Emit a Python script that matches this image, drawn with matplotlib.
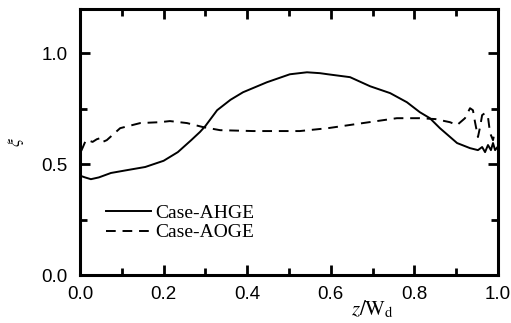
import matplotlib.pyplot as plt
from matplotlib.ticker import MultipleLocator

plt.rcParams['mathtext.fontset'] = 'stix'

# --- dati ---
x_ahge = [0.003, 0.012, 0.026, 0.045, 0.074, 0.110, 0.156, 0.200, 0.234, 0.266,
          0.287, 0.300, 0.328, 0.360, 0.390, 0.447, 0.502, 0.543, 0.574, 0.593,
          0.646, 0.694, 0.742, 0.782, 0.813, 0.837, 0.861, 0.880, 0.902, 0.933,
          0.952, 0.962, 0.969, 0.976, 0.983, 0.988, 0.993, 0.998]
y_ahge = [0.446, 0.440, 0.432, 0.440, 0.460, 0.472, 0.487, 0.515, 0.554, 0.608,
          0.645, 0.672, 0.743, 0.790, 0.824, 0.869, 0.905, 0.914, 0.910, 0.905,
          0.892, 0.851, 0.820, 0.779, 0.734, 0.707, 0.662, 0.631, 0.595, 0.572,
          0.563, 0.577, 0.554, 0.586, 0.563, 0.595, 0.563, 0.575]

x_aoge = [0.003, 0.007, 0.014, 0.019, 0.030, 0.040, 0.048, 0.053, 0.064, 0.096,
          0.144, 0.191, 0.215, 0.256, 0.294, 0.335, 0.414, 0.526, 0.593, 0.677,
          0.758, 0.813, 0.850, 0.885, 0.902, 0.921, 0.933, 0.940, 0.945, 0.952,
          0.957, 0.962, 0.969, 0.976, 0.981, 0.988, 0.993]
y_aoge = [0.560, 0.577, 0.608, 0.608, 0.600, 0.612, 0.617, 0.599, 0.608, 0.662,
          0.685, 0.689, 0.694, 0.685, 0.667, 0.653, 0.649, 0.649, 0.662, 0.685,
          0.707, 0.707, 0.703, 0.689, 0.676, 0.707, 0.752, 0.743, 0.689, 0.622,
          0.667, 0.721, 0.730, 0.712, 0.640, 0.608, 0.653]

fig = plt.figure(figsize=(5.11, 3.23), dpi=100)
ax = fig.add_axes([0.1566, 0.1486, 0.818, 0.824])

ax.plot(x_ahge, y_ahge, color='black', lw=1.4, label='Case-AHGE')
ax.plot(x_aoge, y_aoge, color='black', lw=1.4, dashes=(5, 3.5), label='Case-AOGE')

ax.set_xlim(0, 1.0)
ax.set_ylim(0, 1.2)
ax.xaxis.set_major_locator(MultipleLocator(0.2))
ax.xaxis.set_minor_locator(MultipleLocator(0.1))
ax.yaxis.set_major_locator(MultipleLocator(0.5))
ax.yaxis.set_minor_locator(MultipleLocator(0.25))
ax.tick_params(which='both', direction='in', top=True, right=True, width=2)
ax.tick_params(which='major', length=7, labelsize=13.5)
ax.tick_params(axis='x', which='major', pad=8)
ax.tick_params(axis='y', which='major', pad=9)
ax.tick_params(which='minor', length=5)
for lab in ax.get_xticklabels() + ax.get_yticklabels():
    lab.set_fontfamily('Liberation Sans')
for s in ax.spines.values():
    s.set_linewidth(2.2)

ax.text(-0.153, 0.5, r'$\xi$', transform=ax.transAxes, rotation=90,
        ha='center', va='center', fontsize=13)
ax.text(0.70, -0.13, r'$\mathit{z}/\mathrm{W}_{\mathrm{d}}$', transform=ax.transAxes,
        ha='center', va='center', fontsize=15)

leg = ax.legend(loc='lower left', bbox_to_anchor=(0.04, 0.09), frameon=False,
                prop={'family': 'Liberation Serif', 'size': 14},
                handlelength=2.3, handletextpad=0.2, labelspacing=0.1, borderpad=0)

plt.savefig('out.png', dpi=100)
